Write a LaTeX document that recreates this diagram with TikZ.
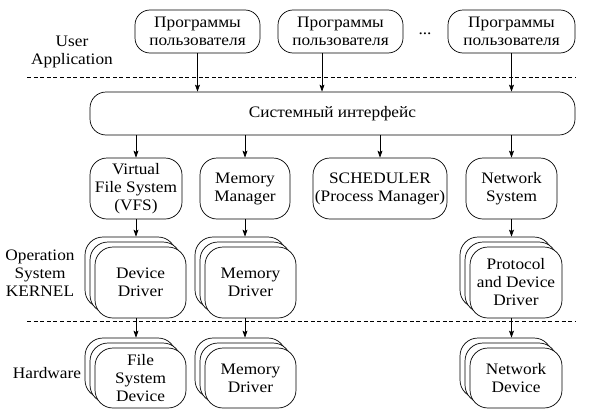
\documentclass[tikz,border=0pt]{standalone}
\usepackage{fontspec}
\setmainfont[FakeStretch=1.08]{Liberation Serif}
\usetikzlibrary{arrows.meta}
\begin{document}
\begin{tikzpicture}[x=1pt,y=-1pt,
  every node/.style={font=\fontsize{16}{18}\selectfont, align=center, inner sep=0pt},
  ubox/.style={draw, line width=0.7pt, rounded corners=15pt, fill=white},
  mbox/.style={draw, line width=0.7pt, rounded corners=17pt, fill=white, minimum height=61pt},
  sbox/.style={draw, line width=0.7pt, rounded corners=18pt, fill=white},
  arr/.style={-{Stealth[length=7pt,width=5pt,inset=1.5pt]}, line width=0.7pt},
  sep/.style={dashed, dash pattern=on 4pt off 2.6pt, line width=0.6pt}]
\useasboundingbox (0,0) rectangle (596,415);

% layer separators
\coordinate (d1a) at (27,77); \coordinate (d1b) at (575,77);
\coordinate (d2a) at (27,321); \coordinate (d2b) at (575,321);
\draw[sep] (d1a) -- (d1b);
\draw[sep] (d2a) -- (d2b);

% layer labels
\node (lua) at (72,52) {User\\Application};
\node (los) at (40,273) {Operation\\System\\KERNEL};
\node (lhw) at (47,373) {Hardware};

% user programs
\node[ubox, minimum width=125pt, minimum height=43pt] (p1) at (197.5,31.5) {Программы\\пользователя};
\node[ubox, minimum width=125pt, minimum height=43pt] (p2) at (340.5,31.5) {Программы\\пользователя};
\node[ubox, minimum width=127pt, minimum height=43pt] (p3) at (511.5,31.5) {Программы\\пользователя};
\node (dots) at (425,34) {...};

% system interface
\node[ubox, rounded corners=16pt, minimum width=485pt, minimum height=43pt] (sys) at (332.5,113.5) {Системный интерфейс};

% kernel subsystems
\node[mbox, minimum width=92pt] (vfs) at (136,188.5) {Virtual\\File System\\(VFS)};
\node[mbox, minimum width=90pt] (mm) at (245,188.5) {Memory\\Manager};
\node[mbox, minimum width=134pt] (sch) at (380,188.5) {SCHEDULER\\(Process Manager)};
\node[mbox, minimum width=91pt] (ns) at (511.5,188.5) {Network\\System};

% kernel drivers (stacks)
\node[sbox, minimum width=91pt, minimum height=71pt] (dd3) at (130.5,272.5) {};
\node[sbox, minimum width=91pt, minimum height=71pt] (dd2) at (135.5,277.5) {};
\node[sbox, minimum width=91pt, minimum height=71pt] (dd) at (140.5,282.5) {Device\\Driver};

\node[sbox, minimum width=91pt, minimum height=71pt] (md3) at (240.5,272.5) {};
\node[sbox, minimum width=91pt, minimum height=71pt] (md2) at (245.5,277.5) {};
\node[sbox, minimum width=91pt, minimum height=71pt] (md) at (250.5,282.5) {Memory\\Driver};

\node[sbox, minimum width=92pt, minimum height=71pt] (pd3) at (506,272.5) {};
\node[sbox, minimum width=92pt, minimum height=71pt] (pd2) at (511,277.5) {};
\node[sbox, minimum width=92pt, minimum height=71pt] (pd) at (516,282.5) {Protocol\\and Device\\Driver};

% hardware (stacks)
\node[sbox, minimum width=91pt, minimum height=60pt] (fs3) at (130.5,368) {};
\node[sbox, minimum width=91pt, minimum height=60pt] (fs2) at (135.5,373) {};
\node[sbox, minimum width=91pt, minimum height=60pt] (fs) at (140.5,378) {File\\System\\Device};

\node[sbox, minimum width=91pt, minimum height=60pt] (hm3) at (240.5,368) {};
\node[sbox, minimum width=91pt, minimum height=60pt] (hm2) at (245.5,373) {};
\node[sbox, minimum width=91pt, minimum height=60pt] (hm) at (250.5,378) {Memory\\Driver};

\node[sbox, minimum width=92pt, minimum height=60pt] (nd3) at (506,368) {};
\node[sbox, minimum width=92pt, minimum height=60pt] (nd2) at (511,373) {};
\node[sbox, minimum width=92pt, minimum height=60pt] (nd) at (516,378) {Network\\Device};

% arrows: user programs -> system interface
\draw[arr] (p1.south) -- (sys.north -| p1.south);
\draw[arr] ([xshift=-18.5pt]p2.south) -- ([xshift=-18.5pt]p2.south |- sys.north);
\draw[arr] (p3.south) -- (sys.north -| p3.south);

% system interface -> subsystems
\draw[arr] (sys.south -| vfs.north) -- (vfs.north);
\draw[arr] (sys.south -| mm.north) -- (mm.north);
\draw[arr] (sys.south -| sch.north) -- (sch.north);
\draw[arr] (sys.south -| ns.north) -- (ns.north);

% subsystems -> drivers
\draw[arr] (vfs.south) -- (vfs.south |- dd3.north);
\draw[arr] (mm.south) -- (mm.south |- md3.north);
\draw[arr] (ns.south) -- (ns.south |- pd3.north);

% drivers -> hardware
\draw[arr] (dd.south -| vfs.south) -- (fs3.north -| vfs.south);
\draw[arr] (md.south -| mm.south) -- (hm3.north -| mm.south);
\draw[arr] (pd.south -| ns.south) -- (nd3.north -| ns.south);
\end{tikzpicture}
\end{document}
